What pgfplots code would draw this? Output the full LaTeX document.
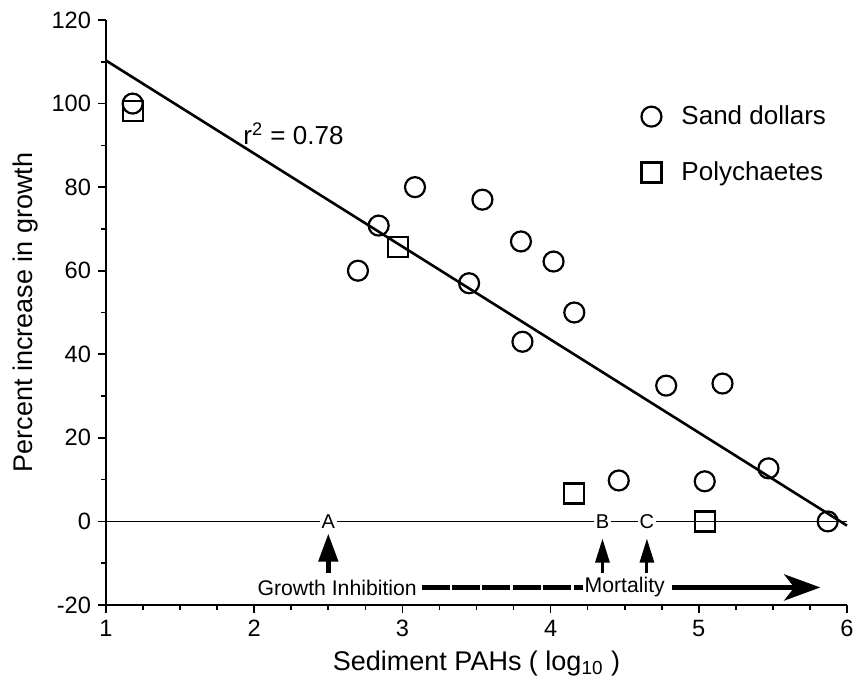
\documentclass[border=0pt]{standalone}
\usepackage{fontspec}
\setmainfont{Liberation Sans}
\usepackage{pgfplots}
\pgfplotsset{compat=1.18}
\usetikzlibrary{arrows.meta}
\newcommand\tickfont{\fontsize{11.8}{14}\selectfont}
\newcommand\legfont{\fontsize{13}{15}\selectfont}
\newcommand\labfont{\fontsize{13.5}{16}\selectfont}
\newcommand\annfont{\fontsize{10.6}{12}\selectfont}
\newcommand\letfont{\fontsize{10}{11}\selectfont}

\begin{document}
\begin{tikzpicture}
\begin{axis}[
 scale only axis, width=370.5pt, height=292.5pt,
 xmin=1, xmax=6, ymin=-20, ymax=120,
 axis x line*=bottom, axis y line*=left,
 axis line style={line width=1pt},
 xtick={1,...,6}, minor x tick num=3,
 ytick={-20,0,...,120}, minor y tick num=1,
 tick align=outside, major tick length=4pt, minor tick length=2.5pt,
 tick style={line width=0.8pt, black},
 /pgf/number format/assume math mode=true,
 xticklabel={\tickfont\pgfmathprintnumber{\tick}},
 yticklabel={\tickfont\pgfmathprintnumber{\tick}},
 xlabel={\labfont Sediment PAHs ( log\textsubscript{10} )},
 ylabel={\labfont Percent increase in growth},
 clip=false,
 legend style={draw=none, fill=none, at={(axis cs:4.57,101.5)}, anchor=north west,
   font=\legfont, row sep=13pt, column sep=8pt},
 legend cell align=left,
]
\addplot[line width=0.5pt, forget plot] coordinates {(1,0) (6,0)};
\addplot[line width=1.3pt, forget plot] coordinates {(1,110.3) (6,-1)};
\addplot[only marks, mark=o, mark size=5pt, mark options={line width=1.1pt}] coordinates {
 (1.18,100) (2.70,60) (2.84,70.8) (3.085,80) (3.54,77) (3.80,67) (4.02,62.2)
 (3.45,57) (4.16,50) (3.81,43) (4.78,32.5) (5.16,33) (5.47,12.7) (4.46,9.8)
 (5.04,9.6) (5.87,0)};
\addlegendentry{\legfont Sand dollars}
\addplot[only marks, mark=square, mark size=5pt, mark options={line width=1.1pt}] coordinates {
 (1.18,98.3) (2.97,65.6) (4.16,6.7) (5.04,0)};
\addlegendentry{\legfont Polychaetes}

\node[anchor=west] at (axis cs:1.88,92.8) {\legfont r\textsuperscript{2} = 0.78};

\node[fill=white, inner sep=1pt] at (axis cs:2.5,0) {\letfont A};
\node[fill=white, inner sep=1pt] at (axis cs:4.35,0) {\letfont B};
\node[fill=white, inner sep=1pt] at (axis cs:4.65,0) {\letfont C};
\draw[line width=2.3pt, -{Triangle[length=14pt,width=9.5pt]}] (axis cs:2.5,-12.4) -- (axis cs:2.5,-2.9);
\draw[line width=1.5pt, -{Triangle[length=12pt,width=7pt]}] (axis cs:4.35,-12.4) -- (axis cs:4.35,-4.1);
\draw[line width=1.5pt, -{Triangle[length=12pt,width=7pt]}] (axis cs:4.65,-12.4) -- (axis cs:4.65,-4.1);

\node at (axis cs:2.56,-15.8) {\annfont Growth Inhibition};
\draw[line width=2.8pt, dash pattern=on 14pt off 1.2pt] (axis cs:3.13,-15.8) -- (axis cs:4.22,-15.8);
\node[inner sep=0pt] at (axis cs:4.50,-15.8) {\annfont Mortality};
\draw[line width=2.8pt, -{Stealth[length=18pt,width=13pt,inset=5pt]}] (axis cs:4.82,-15.8) -- (axis cs:5.82,-15.8);
\end{axis}
\pgfresetboundingbox
\path (current axis.south west) ++(-53pt,-37.5pt) coordinate (bbA);
\path (current axis.south west) ++(376pt,302.5pt) coordinate (bbB);
\useasboundingbox (bbA) rectangle (bbB);
\end{tikzpicture}
\end{document}
